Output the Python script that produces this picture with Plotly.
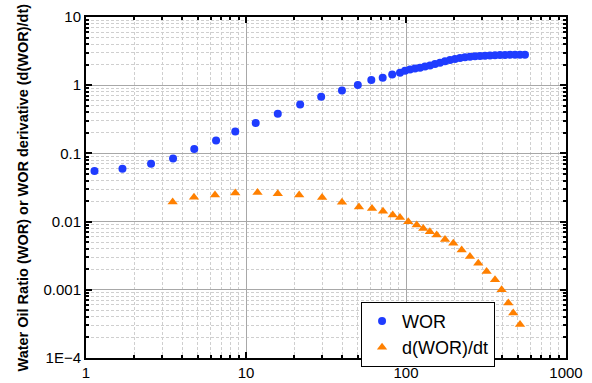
import plotly.graph_objects as go

# ---- data ----
wor_t = [1.13, 1.69, 2.55, 3.5, 4.75, 6.5, 8.57, 11.5, 15.8, 21.8, 29.5, 39.8, 50.0, 60.7, 71.5, 82.0,
         91.7, 98.6, 105.9, 113.8, 122.3, 131.4, 141.3, 151.8, 163.1, 175.3, 188.4, 202.4, 217.6,
         233.8, 251.2, 270.0, 290.0, 311.7, 335.0, 360.0, 386.8, 415.7, 446.7, 480.0, 515.8, 554.0]
wor_v = [0.055, 0.0594, 0.0703, 0.0843, 0.1164, 0.154, 0.209, 0.278, 0.382, 0.521, 0.675, 0.834, 1.01,
         1.19, 1.29, 1.43,
         1.527, 1.633, 1.706, 1.758, 1.806, 1.879, 1.95, 2.044, 2.136, 2.238, 2.338, 2.426, 2.5,
         2.56, 2.61, 2.65, 2.675, 2.70, 2.73, 2.75, 2.77, 2.78, 2.79, 2.79, 2.79, 2.79]

der_t = [3.48, 4.73, 6.4, 8.57, 11.8, 15.8, 21.5, 29.9, 39.8, 50.8, 61.3, 71.8, 82.6, 91.7, 103.3,
         116.7, 128.2, 141.0, 155.5, 175.3, 197.5, 222.8, 251.0, 283.0, 319.0, 360.0, 396.0, 436.0,
         468.0, 516.0]
der_v = [0.01945, 0.02277, 0.0246, 0.0263, 0.0266, 0.0257, 0.0246, 0.0225, 0.0192, 0.0164, 0.0155,
         0.0142, 0.01245, 0.01148, 0.00993, 0.00889, 0.00793, 0.0071, 0.00636, 0.00548, 0.0048,
         0.00384, 0.00307, 0.00245, 0.00185, 0.0014, 0.001, 0.00064, 0.000457, 0.00031]

x_major = [1, 10, 100, 1000]
x_major_text = ["1", "10", "100", "1000"]
y_major = [1e-4, 1e-3, 1e-2, 1e-1, 1, 10]
y_major_text = ["1E\u22124", "0.001", "0.01", "0.1", "1", "10"]

x_minor = [m * d for d in (1, 10, 100) for m in range(2, 10)]
y_minor = [m * d for d in (1e-4, 1e-3, 1e-2, 1e-1, 1) for m in range(2, 10)]

fig = go.Figure()
fig.add_trace(go.Scatter(x=wor_t, y=wor_v, mode="markers", name="WOR",
                         marker=dict(symbol="circle", size=8, color="#1f3cff")))
fig.add_trace(go.Scatter(x=der_t, y=der_v, mode="markers", name="d(WOR)/dt",
                         marker=dict(symbol="triangle-up", size=9, color="#ff8000")))

font_fam = "Liberation Sans, Arial, sans-serif"
axis_common = dict(
    type="log", automargin=False,
    showline=True, linecolor="black", linewidth=2, mirror="ticks",
    ticks="inside", ticklen=6, tickcolor="black", tickwidth=1.5,
    showgrid=True, gridcolor="#a8a8a8", gridwidth=1.2,
    zeroline=False,
    tickfont=dict(family=font_fam, size=15, color="black"),
)

fig.update_layout(
    width=592, height=383,
    margin=dict(l=86, r=26, t=17, b=25),
    paper_bgcolor="white", plot_bgcolor="white",
    showlegend=True,
    legend=dict(x=0.573, y=0.165, xanchor="left", yanchor="top",
                bgcolor="white", bordercolor="black", borderwidth=1,
                font=dict(family=font_fam, size=18, color="black"),
                tracegroupgap=0, itemwidth=30),
    xaxis=dict(axis_common, range=[0, 3], tickvals=x_major, ticktext=x_major_text,
               minor=dict(tickvals=x_minor, ticks="inside", ticklen=3, tickcolor="black",
                          showgrid=True, gridcolor="#cfcfcf", griddash="3px,2px", gridwidth=1)),
    yaxis=dict(axis_common, range=[-4, 1], tickvals=y_major, ticktext=y_major_text,
               minor=dict(tickvals=y_minor, ticks="inside", ticklen=3, tickcolor="black",
                          showgrid=True, gridcolor="#cfcfcf", griddash="3px,2px", gridwidth=1)),
    annotations=[dict(text="<b>Water Oil Ratio (WOR) or WOR derivative (d(WOR)/dt)</b>",
                      xref="paper", yref="paper", x=-0.1333, y=0.5,
                      xanchor="center", yanchor="middle", textangle=-90, showarrow=False,
                      font=dict(family=font_fam, size=14.5, color="black"))],
)

fig.write_html("out.html")
